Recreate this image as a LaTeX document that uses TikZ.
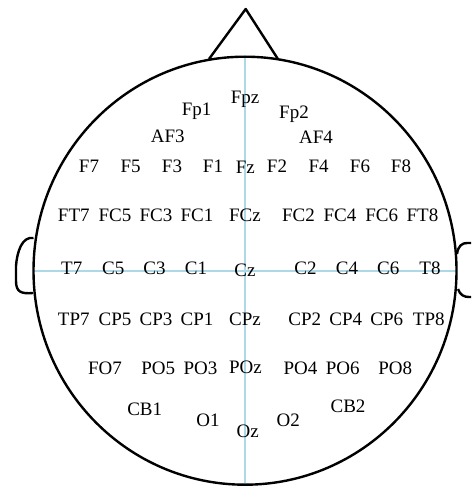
\documentclass[tikz,border=0pt]{standalone}
\usepackage{fontspec}
\setmainfont{Liberation Serif}
\usepackage{tikz}
\definecolor{axisblue}{RGB}{173,216,230}
\tikzset{
  head/.style={draw, line width=1.2pt, line join=round},
  axis/.style={draw=axisblue, line width=1pt},
  el/.style={anchor=base, inner sep=0pt, font=\fontsize{9.5}{11}\selectfont}
}

\begin{document}
\begin{tikzpicture}[x=0.5pt, y=-0.5pt]
\clip (0,0) rectangle (471,486);
\coordinate (c) at (245,270.7);
\coordinate (top) at (245,57);   \coordinate (bot) at (245,485);
\coordinate (lft) at (33.7,270.7); \coordinate (rgt) at (456,270.7);
\coordinate (n1) at (209,59); \coordinate (n2) at (277.7,58.7); \coordinate (tip) at (245.7,9);
% axes behind the labels
\draw[axis] (top) -- (bot);
\draw[axis] (lft) -- (rgt);
% head, nose and ears
\draw[head] (c) ellipse [x radius=211.5, y radius=214];
\draw[head] (n1) -- (tip) -- (n2);
\draw[head] (33.5,238) .. controls (22,236) and (17,252) .. (16,266) -- (16,281) .. controls (16,292) and (21,294) .. (33,293);
\draw[head] (457,254) .. controls (458,246) and (462,243) .. (467,243) -- (480,243);
\draw[head] (458,289) .. controls (460,295) and (464,297) .. (469,297) -- (480,297);
% electrodes
\node[el] (Fpz) at (245,103.3) {Fpz};
\node[el] (Fp1) at (196.7,115.7) {Fp1};
\node[el] (Fp2) at (294,119) {Fp2};
\node[el] (AF3) at (167.7,142.7) {AF3};
\node[el] (AF4) at (316,144) {AF4};
\foreach \n/\x in {F7/89, F5/130.7, F3/172, F1/213, F2/277, F4/318.7, F6/360, F8/401}
  \node[el] (\n) at (\x,172) {\n};
\node[el] (Fz) at (245.3,174) {Fz};
\foreach \n/\x in {FT7/73.8, FC5/115, FC3/156, FC1/197, FCz/245, FC2/298.5, FC4/340, FC6/381.7, FT8/422.5}
  \node[el] (\n) at (\x,221.5) {\n};
\foreach \n/\x in {T7/71.7, C5/113.3, C3/154.5, C1/196, C2/305.5, C4/347, C6/388.3, T8/430}
  \node[el] (\n) at (\x,274.3) {\n};
\node[el] (Cz) at (245,276) {Cz};
\foreach \n/\x in {TP7/73.8, CP5/115, CP3/156, CP1/197, CPz/245, CP2/304.7, CP4/345.8, CP6/386.7, TP8/428.8}
  \node[el] (\n) at (\x,325.7) {\n};
\foreach \n/\x in {FO7/105, PO5/158.3, PO3/200.5, PO4/300.5, PO6/342.7, PO8/395.3}
  \node[el] (\n) at (\x,374.7) {\n};
\node[el] (POz) at (245.5,373) {POz};
\node[el] (CB1) at (144.7,415.3) {CB1};
\node[el] (CB2) at (348,412.3) {CB2};
\node[el] (O1) at (208,426) {O1};
\node[el] (Oz) at (247.7,437.7) {Oz};
\node[el] (O2) at (288.3,426) {O2};
\end{tikzpicture}
\end{document}
